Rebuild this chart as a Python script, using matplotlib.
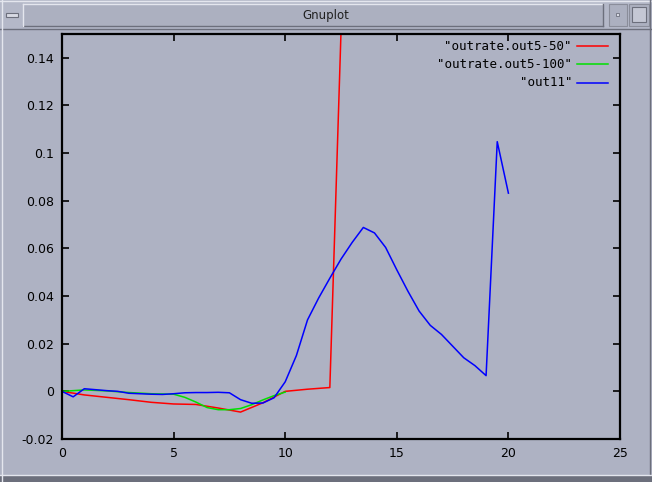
import matplotlib
matplotlib.use("Agg")
import matplotlib.pyplot as plt
from matplotlib.patches import Rectangle
from matplotlib.lines import Line2D

# ---- data ----
red_x = [0, 1, 2, 3, 4, 5, 6, 7, 8, 9, 10, 11, 12, 13]
red_y = [0.0, -0.0015, -0.0025, -0.0035, -0.0046, -0.0053, -0.0055, -0.0070,
         -0.0087, -0.0048, 0.0, 0.0009, 0.0016, 0.30]

green_x = [0, 1, 2, 3, 4, 5, 5.5, 6, 6.5, 7, 7.5, 8, 8.5, 9, 9.5, 10]
green_y = [0.0, 0.0006, 0.0002, -0.0005, -0.0010, -0.0012, -0.0025, -0.0045,
           -0.0068, -0.0077, -0.0077, -0.0072, -0.0056, -0.0036, -0.0018, -0.0003]

blue_x = [0, 0.5, 1, 1.5, 2, 2.5, 3, 3.5, 4, 4.5, 5, 5.5, 6, 6.5, 7, 7.5, 8,
          8.5, 9, 9.5, 10, 10.5, 11, 11.5, 12, 12.5, 13, 13.5, 14, 14.5, 15,
          15.5, 16, 16.5, 17, 17.5, 18, 18.5, 19, 19.5, 20]
blue_y = [0.0, -0.0023, 0.0011, 0.0007, 0.0003, 0.0, -0.0008, -0.0010, -0.0012,
          -0.0013, -0.0010, -0.0006, -0.0005, -0.0005, -0.0004, -0.0006, -0.0035,
          -0.0050, -0.0049, -0.0027, 0.0040, 0.0150, 0.0300, 0.0392, 0.0475,
          0.0555, 0.0625, 0.0688, 0.0665, 0.0604, 0.0510, 0.0420, 0.0337,
          0.0277, 0.0239, 0.0190, 0.0141, 0.0108, 0.0066, 0.1048, 0.0832]

labels = ['"outrate.out5-50"', '"outrate.out5-100"', '"out11"']
colors = ['#ff0000', '#00e000', '#0000ff']
xticks = [0, 5, 10, 15, 20, 25]
yticks = [-0.02, 0, 0.02, 0.04, 0.06, 0.08, 0.1, 0.12, 0.14]
ytick_labels = ['-0.02', '0', '0.02', '0.04', '0.06', '0.08', '0.1', '0.12', '0.14']

bg = '#aeb2c3'
W, H = 652, 482
fig = plt.figure(figsize=(W / 100, H / 100), dpi=100, facecolor=bg)

# window decoration (title bar)
def fr(x, y, w, h, **kw):
    fig.add_artist(Rectangle((x / W, 1 - (y + h) / H), w / W, h / H,
                             transform=fig.transFigure, **kw))

def fl(x0, y0, x1, y1, **kw):
    fig.add_artist(Line2D([x0 / W, x1 / W], [1 - y0 / H, 1 - y1 / H],
                          transform=fig.transFigure, **kw))

fr(0, 0, W, 30, facecolor='#b4b8c8', edgecolor='none')
fl(0, 1, W, 1, color='#e4e6ee', lw=1)
fl(0, 29, W, 29, color='#6c6f7c', lw=1)
fr(23, 4, 580, 22, facecolor='#acb0c0', edgecolor='none')
fl(23, 4, 603, 4, color='#e4e6ee', lw=1)
fl(23, 26, 603, 26, color='#6c6f7c', lw=1)
fl(23, 4, 23, 26, color='#e4e6ee', lw=1)
fl(603, 4, 603, 26, color='#6c6f7c', lw=1)
fr(6, 13, 12, 4, facecolor='#d8dae4', edgecolor='#6c6f7c', lw=0.8)
fr(609, 4, 18, 22, facecolor='#acb0c0', edgecolor='#8a8d9a', lw=0.8)
fr(616, 13, 3, 3, facecolor='#d8dae4', edgecolor='#6c6f7c', lw=0.6)
fr(629, 4, 20, 22, facecolor='#acb0c0', edgecolor='#8a8d9a', lw=0.8)
fr(632, 7, 14, 15, facecolor='#c4c7d4', edgecolor='#6c6f7c', lw=0.8)
fl(2, 0, 2, H, color='#e4e6ee', lw=1)
fl(W - 2, 0, W - 2, H, color='#6c6f7c', lw=1)
fr(0, 476, W, 6, facecolor='#6c6f7c', edgecolor='none')
fl(0, 475, W, 475, color='#e4e6ee', lw=1)
fig.text(326 / W, 1 - 15 / H, 'Gnuplot', ha='center', va='center',
         fontsize=8.5, family='DejaVu Sans', color='#202020')

ax = fig.add_axes([62 / W, 1 - 439 / H, (620 - 62) / W, (439 - 34) / H])
ax.set_facecolor(bg)

for xs, ys, lab, c in zip([red_x, green_x, blue_x], [red_y, green_y, blue_y],
                          labels, colors):
    ax.plot(xs, ys, color=c, lw=1.1, label=lab)

ax.set_xlim(0, 25)
ax.set_ylim(-0.02, 0.15)
ax.set_xticks(xticks)
ax.set_xticklabels([str(t) for t in xticks])
ax.set_yticks(yticks)
ax.set_yticklabels(ytick_labels)
ax.tick_params(direction='in', length=5, width=1.2, top=True, right=True,
               labelsize=9, colors='black', pad=6)
for lab in ax.get_xticklabels() + ax.get_yticklabels():
    lab.set_family('DejaVu Sans')
for s in ax.spines.values():
    s.set_linewidth(1.6)
    s.set_color('black')

# legend (gnuplot-style: text right-aligned, sample to the right)
for i, (lab, c) in enumerate(zip(labels, colors)):
    yy = 1 - (46 + 18.3 * i - 34) / (439 - 34)
    ax.text((572 - 62) / (620 - 62), yy, lab, transform=ax.transAxes,
            ha='right', va='center', fontsize=9, family='DejaVu Sans Mono')
    ax.plot([(577 - 62) / (620 - 62), (608 - 62) / (620 - 62)], [yy, yy],
            transform=ax.transAxes, color=c, lw=1.1, clip_on=False)

fig.savefig('out.png', dpi=100, facecolor=bg)
